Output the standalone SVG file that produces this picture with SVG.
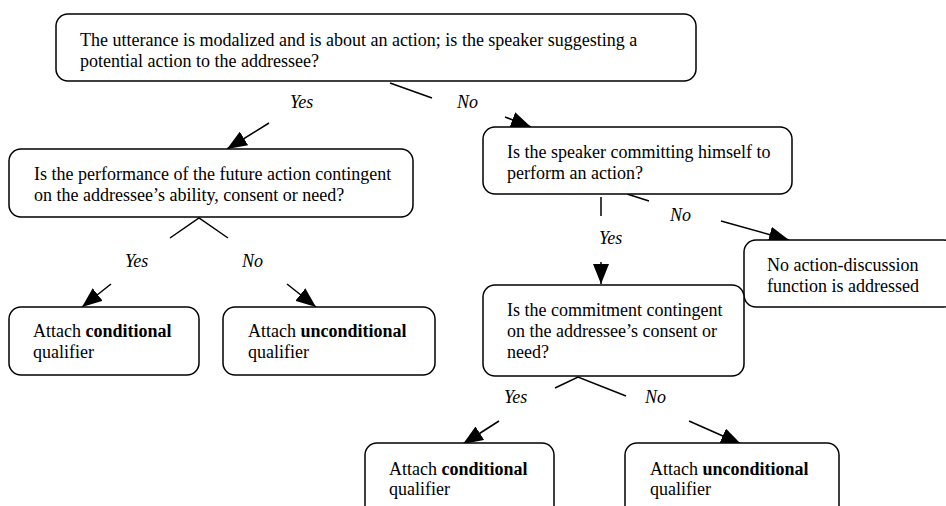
<svg xmlns="http://www.w3.org/2000/svg" width="946" height="506" viewBox="0 0 946 506">
<style>
.box{fill:#fff;stroke:#000;stroke-width:1.5}
.t{font-family:"Liberation Serif","Times New Roman",serif;font-size:18px;fill:#000}
.b{font-weight:bold}
.lbl{font-family:"Liberation Serif","Times New Roman",serif;font-size:18px;font-style:italic;fill:#000}
.c{fill:none;stroke:#000;stroke-width:1.5}
.a{marker-end:url(#ah)}
</style>
<defs>
<marker id="ah" markerUnits="userSpaceOnUse" markerWidth="20" markerHeight="16" refX="20" refY="8" orient="auto">
<path d="M0,0 L20,8 L0,16 z" fill="#000"/>
</marker>
</defs>
<rect width="946" height="506" fill="#fff"/>
<g id="connectors">
<path class="c a" d="M269,123 L227,149"/>
<path class="c" d="M390,83 L432,98"/>
<path class="c a" d="M505,117 L531,127"/>
<path class="c" d="M170,238 L199,218 L228,238"/>
<path class="c a" d="M111,284 L82,307"/>
<path class="c a" d="M287,284 L316,307"/>
<path class="c" d="M627,194 L649,201"/>
<path class="c a" d="M721,221 L789,240"/>
<path class="c" d="M601,197 L601,216"/>
<path class="c a" d="M601,262 L601,284"/>
<path class="c" d="M555,388 L578,377 L626,396"/>
<path class="c a" d="M499,421 L463,444"/>
<path class="c a" d="M689,421 L741,444"/>
<text class="lbl" x="290" y="108">Yes</text>
<text class="lbl" x="457" y="108">No</text>
<text class="lbl" x="125" y="267">Yes</text>
<text class="lbl" x="242" y="267">No</text>
<text class="lbl" x="670" y="221">No</text>
<text class="lbl" x="599" y="244">Yes</text>
<text class="lbl" x="504" y="403">Yes</text>
<text class="lbl" x="645" y="403">No</text>
</g>
<g id="q1">
<rect class="box" x="56" y="14" width="640" height="67" rx="12"/>
<text class="t" x="80" y="46">The utterance is modalized and is about an action; is the speaker suggesting a</text>
<text class="t" x="80" y="67">potential action to the addressee?</text>
</g>
<g id="q2">
<rect class="box" x="9" y="149" width="404" height="68" rx="12"/>
<text class="t" x="34" y="180">Is the performance of the future action contingent</text>
<text class="t" x="34" y="201">on the addressee’s ability, consent or need?</text>
</g>
<g id="q3">
<rect class="box" x="483" y="127" width="309" height="67" rx="12"/>
<text class="t" x="507" y="158">Is the speaker committing himself to</text>
<text class="t" x="507" y="179">perform an action?</text>
</g>
<g id="none">
<rect class="box" x="744" y="240" width="212" height="67" rx="12"/>
<text class="t" x="767" y="271">No action-discussion</text>
<text class="t" x="767" y="292">function is addressed</text>
</g>
<g id="q4">
<rect class="box" x="483" y="285" width="261" height="91" rx="12"/>
<text class="t" x="507" y="316">Is the commitment contingent</text>
<text class="t" x="507" y="337">on the addressee’s consent or</text>
<text class="t" x="507" y="358">need?</text>
</g>
<g id="cond1">
<rect class="box" x="9" y="307" width="190" height="68" rx="12"/>
<text class="t" x="33" y="337">Attach <tspan class="b">conditional</tspan></text>
<text class="t" x="33" y="358">qualifier</text>
</g>
<g id="uncond1">
<rect class="box" x="223" y="307" width="212" height="68" rx="12"/>
<text class="t" x="248" y="337">Attach <tspan class="b">unconditional</tspan></text>
<text class="t" x="248" y="358">qualifier</text>
</g>
<g id="cond2">
<rect class="box" x="365" y="443" width="189" height="75" rx="12"/>
<text class="t" x="389" y="475">Attach <tspan class="b">conditional</tspan></text>
<text class="t" x="389" y="495">qualifier</text>
</g>
<g id="uncond2">
<rect class="box" x="625" y="443" width="214" height="75" rx="12"/>
<text class="t" x="650" y="475">Attach <tspan class="b">unconditional</tspan></text>
<text class="t" x="650" y="495">qualifier</text>
</g>
</svg>
